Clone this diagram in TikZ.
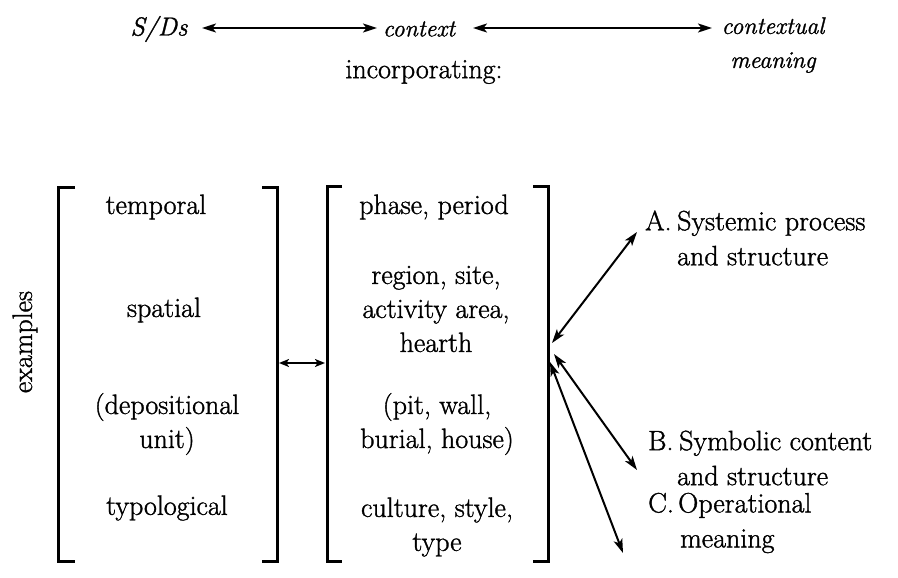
\documentclass[tikz,border=0pt]{standalone}
\usepackage{fontspec}
\setmainfont{Latin Modern Roman}[FakeBold=1.2]
\usetikzlibrary{arrows.meta}
\begin{document}
\begin{tikzpicture}[x=1pt,y=-1pt,
  txt/.style={font=\fontsize{28}{34}\selectfont, align=center, inner sep=0pt},
  itx/.style={font=\fontsize{24}{34}\selectfont\itshape, inner sep=0pt},
  lab/.style={font=\fontsize{28}{35}\selectfont, inner sep=0pt, anchor=west, align=left},
  brk/.style={line width=3pt},
  dbl/.style={line width=2pt, {Stealth[length=14pt,width=9pt,inset=3.5pt]}-{Stealth[length=14pt,width=9pt,inset=3.5pt]}},
  dbls/.style={line width=1.6pt, {Stealth[length=10pt,width=8pt,inset=2.5pt]}-{Stealth[length=10pt,width=8pt,inset=2.5pt]}},
]
\useasboundingbox (0,0) rectangle (898,578);

% top row
\node[itx, font=\fontsize{26}{34}\selectfont\itshape] (sd) at (159,29) {S/Ds};
\node[itx] (ctx) at (419,29) {context};
\node[itx, align=center] (cm) at (773,45) {contextual\\meaning};
\node[txt] (inc) at (424,72) {incorporating:};
\coordinate (sdR) at (202,28);
\coordinate (ctxL) at (377,28);
\coordinate (ctxR) at (473,28);
\coordinate (cmL) at (712,28);
\draw[dbl] (sdR) -- (ctxL);
\draw[dbl] (ctxR) -- (cmL);

% brackets
\draw[brk] (75,187) -| (58,561) -- (75,561);
\draw[brk] (262,187) -| (277,561) -- (262,561);
\draw[brk] (342,186) -| (327,561) -- (342,561);
\draw[brk] (533,186) -| (548,561) -- (533,561);

\node[txt, rotate=90] (ex) at (25,342) {examples};

% left column
\node[txt] (t1) at (156,207) {temporal};
\node[txt] (t2) at (164,310) {spatial};
\node[txt] (t3) at (167,424) {(depositional\\unit)};
\node[txt] (t4) at (167,508) {typological};

% right column
\node[txt] (r1) at (434,207) {phase, period};
\node[txt] (r2) at (436,309) {region, site,\\activity area,\\hearth};
\node[txt] (r3) at (437,424) {(pit, wall,\\burial, house)};
\node[txt] (r4) at (437,527) {culture, style,\\type};

\coordinate (b2) at (279,363);
\coordinate (b3) at (325,363);
\draw[dbls] (b2) -- (b3);

% labels
\node[lab] (la) at (645,238) {\makebox[32pt][l]{A.}Systemic process\\\hspace*{32pt}and structure};
\node[lab] (lb) at (648,458) {\makebox[31pt][l]{B.}Symbolic content\\\hspace*{29pt}and structure};
\node[lab] (lc) at (648,523) {\makebox[30pt][l]{C.}Operational\\\hspace*{32pt}meaning};

% arrows from context bracket
\coordinate (hA) at (552,343);
\coordinate (hB) at (554,354);
\coordinate (hC) at (550,362);
\coordinate (eA) at (637,232);
\coordinate (eB) at (637,470);
\coordinate (eC) at (623,553);
\draw[dbl] (hA) -- (eA);
\draw[dbl] (hB) -- (eB);
\draw[dbl] (hC) -- (eC);
\end{tikzpicture}
\end{document}
